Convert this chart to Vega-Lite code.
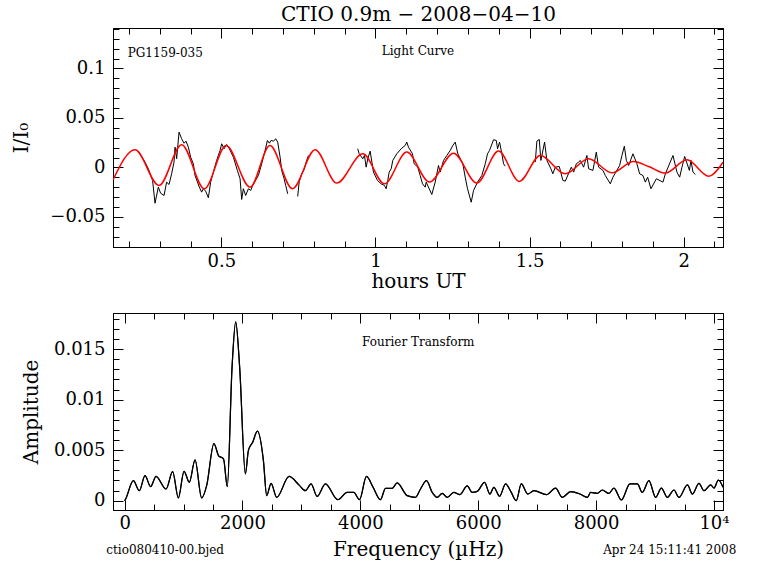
{
  "$schema": "https://vega.github.io/schema/vega-lite/v6.json",
  "autosize": "none",
  "padding": {"left": 113, "top": 28, "right": 655, "bottom": 546},
  "background": "white",
  "config": {
    "view": {"stroke": "black", "strokeWidth": 1},
    "axis": {
      "grid": false,
      "domainColor": "black",
      "domainWidth": 1,
      "tickColor": "black",
      "tickWidth": 1,
      "labelFont": "DejaVu Serif",
      "labelFontSize": 18,
      "labelColor": "black",
      "titleFont": "DejaVu Serif",
      "titleFontSize": 20,
      "titleFontWeight": "normal",
      "titleColor": "black",
      "labelOverlap": false,
      "labelFlush": false
    }
  },
  "datasets": {
    "obs": [
      {"t": 0.2305, "v": 0.0165, "s": 1}, {"t": 0.2523, "v": 0.0054, "s": 1}, {"t": 0.2630, "v": -0.0013, "s": 1},
      {"t": 0.2769, "v": -0.0131, "s": 1}, {"t": 0.2847, "v": -0.0361, "s": 1}, {"t": 0.2955, "v": -0.0199, "s": 1},
      {"t": 0.3029, "v": -0.0260, "s": 1}, {"t": 0.3140, "v": -0.0283, "s": 1}, {"t": 0.3224, "v": -0.0148, "s": 1},
      {"t": 0.3302, "v": -0.0172, "s": 1}, {"t": 0.3386, "v": -0.0064, "s": 1}, {"t": 0.3464, "v": 0.0054, "s": 1},
      {"t": 0.3497, "v": 0.0205, "s": 1}, {"t": 0.3549, "v": 0.0088, "s": 1}, {"t": 0.3627, "v": 0.0357, "s": 1},
      {"t": 0.3711, "v": 0.0290, "s": 1}, {"t": 0.3789, "v": 0.0245, "s": 1}, {"t": 0.3854, "v": 0.0266, "s": 1},
      {"t": 0.3929, "v": 0.0205, "s": 1}, {"t": 0.4003, "v": 0.0104, "s": 1}, {"t": 0.4091, "v": 0.0037, "s": 1},
      {"t": 0.4146, "v": -0.0081, "s": 1}, {"t": 0.4286, "v": -0.0199, "s": 1}, {"t": 0.4360, "v": -0.0249, "s": 1},
      {"t": 0.4416, "v": -0.0215, "s": 1}, {"t": 0.4490, "v": -0.0239, "s": 1}, {"t": 0.4578, "v": -0.0306, "s": 1},
      {"t": 0.4653, "v": -0.0148, "s": 1}, {"t": 0.4740, "v": -0.0047, "s": 1}, {"t": 0.4847, "v": 0.0071, "s": 1},
      {"t": 0.4958, "v": 0.0172, "s": 1}, {"t": 0.5010, "v": 0.0239, "s": 1}, {"t": 0.5088, "v": 0.0189, "s": 1},
      {"t": 0.5172, "v": 0.0232, "s": 1}, {"t": 0.5260, "v": 0.0189, "s": 1}, {"t": 0.5390, "v": 0.0104, "s": 1},
      {"t": 0.5519, "v": -0.0030, "s": 1}, {"t": 0.5607, "v": -0.0114, "s": 1}, {"t": 0.5659, "v": -0.0323, "s": 1},
      {"t": 0.5714, "v": -0.0215, "s": 1}, {"t": 0.5789, "v": -0.0283, "s": 1}, {"t": 0.5877, "v": -0.0215, "s": 1},
      {"t": 0.5951, "v": -0.0232, "s": 1}, {"t": 0.6016, "v": -0.0182, "s": 1}, {"t": 0.6201, "v": -0.0081, "s": 1},
      {"t": 0.6308, "v": 0.0037, "s": 1}, {"t": 0.6419, "v": 0.0172, "s": 1}, {"t": 0.6494, "v": 0.0273, "s": 1},
      {"t": 0.6558, "v": 0.0245, "s": 1}, {"t": 0.6614, "v": 0.0273, "s": 1}, {"t": 0.6688, "v": 0.0266, "s": 1},
      {"t": 0.6721, "v": 0.0273, "s": 1}, {"t": 0.6763, "v": 0.0290, "s": 1}, {"t": 0.6828, "v": 0.0256, "s": 1},
      {"t": 0.6906, "v": 0.0104, "s": 1}, {"t": 0.6958, "v": -0.0030, "s": 1}, {"t": 0.7036, "v": -0.0114, "s": 1},
      {"t": 0.7088, "v": -0.0182, "s": 1}, {"t": 0.7153, "v": -0.0266, "s": 1},
      {"t": 0.7477, "v": -0.0293, "s": 2}, {"t": 0.7523, "v": -0.0148, "s": 2}, {"t": 0.7607, "v": -0.0064, "s": 2},
      {"t": 0.7685, "v": -0.0023, "s": 2}, {"t": 0.7750, "v": 0.0054, "s": 2}, {"t": 0.7825, "v": 0.0121, "s": 2},
      {"t": 0.9425, "v": 0.0189, "s": 3}, {"t": 0.9471, "v": 0.0138, "s": 3}, {"t": 0.9588, "v": 0.0088, "s": 3},
      {"t": 0.9643, "v": 0.0121, "s": 3}, {"t": 0.9698, "v": 0.0003, "s": 3}, {"t": 0.9750, "v": 0.0088, "s": 3},
      {"t": 0.9828, "v": 0.0165, "s": 3}, {"t": 0.9935, "v": -0.0047, "s": 3}, {"t": 1.0065, "v": -0.0131, "s": 3},
      {"t": 1.0185, "v": -0.0165, "s": 3}, {"t": 1.0292, "v": -0.0182, "s": 3}, {"t": 1.0347, "v": -0.0215, "s": 3},
      {"t": 1.0399, "v": -0.0131, "s": 3}, {"t": 1.0445, "v": -0.0047, "s": 3}, {"t": 1.0510, "v": -0.0013, "s": 3},
      {"t": 1.0562, "v": 0.0071, "s": 3}, {"t": 1.0692, "v": 0.0138, "s": 3}, {"t": 1.0834, "v": 0.0189, "s": 3},
      {"t": 1.0964, "v": 0.0222, "s": 3}, {"t": 1.1016, "v": 0.0256, "s": 3}, {"t": 1.1071, "v": 0.0205, "s": 3},
      {"t": 1.1201, "v": 0.0138, "s": 3}, {"t": 1.1256, "v": 0.0037, "s": 3}, {"t": 1.1373, "v": 0.0003, "s": 3},
      {"t": 1.1451, "v": -0.0081, "s": 3}, {"t": 1.1526, "v": -0.0165, "s": 3}, {"t": 1.1614, "v": -0.0199, "s": 3},
      {"t": 1.1646, "v": -0.0148, "s": 3}, {"t": 1.1828, "v": -0.0273, "s": 3}, {"t": 1.1938, "v": -0.0148, "s": 3},
      {"t": 1.2045, "v": 0.0020, "s": 3}, {"t": 1.2101, "v": -0.0047, "s": 3}, {"t": 1.2208, "v": 0.0071, "s": 3},
      {"t": 1.2315, "v": 0.0121, "s": 3}, {"t": 1.2425, "v": 0.0172, "s": 3}, {"t": 1.2510, "v": 0.0222, "s": 3},
      {"t": 1.2588, "v": 0.0256, "s": 3}, {"t": 1.2672, "v": 0.0138, "s": 3}, {"t": 1.2834, "v": 0.0037, "s": 3},
      {"t": 1.2912, "v": -0.0098, "s": 3}, {"t": 1.2987, "v": -0.0215, "s": 3}, {"t": 1.3107, "v": -0.0351, "s": 3},
      {"t": 1.3182, "v": -0.0232, "s": 3}, {"t": 1.3312, "v": -0.0148, "s": 3}, {"t": 1.3451, "v": -0.0081, "s": 3},
      {"t": 1.3562, "v": 0.0037, "s": 3}, {"t": 1.3636, "v": 0.0138, "s": 3}, {"t": 1.3701, "v": 0.0172, "s": 3},
      {"t": 1.3831, "v": 0.0280, "s": 3}, {"t": 1.3919, "v": 0.0273, "s": 3}, {"t": 1.3961, "v": 0.0189, "s": 3},
      {"t": 1.4026, "v": 0.0256, "s": 3}, {"t": 1.4101, "v": 0.0138, "s": 3}, {"t": 1.4156, "v": 0.0037, "s": 3},
      {"t": 1.4211, "v": 0.0013, "s": 3},
      {"t": 1.5185, "v": 0.0054, "s": 4}, {"t": 1.5237, "v": 0.0266, "s": 4}, {"t": 1.5315, "v": 0.0283, "s": 4},
      {"t": 1.5367, "v": 0.0071, "s": 4}, {"t": 1.5487, "v": 0.0256, "s": 4}, {"t": 1.5562, "v": 0.0071, "s": 4},
      {"t": 1.5692, "v": -0.0013, "s": 4}, {"t": 1.5756, "v": -0.0064, "s": 4}, {"t": 1.5834, "v": 0.0003, "s": 4},
      {"t": 1.5964, "v": 0.0010, "s": 4}, {"t": 1.6081, "v": -0.0131, "s": 4}, {"t": 1.6159, "v": -0.0138, "s": 4},
      {"t": 1.6354, "v": 0.0003, "s": 4}, {"t": 1.6429, "v": -0.0047, "s": 4}, {"t": 1.6516, "v": 0.0037, "s": 4},
      {"t": 1.6591, "v": 0.0054, "s": 4}, {"t": 1.6646, "v": 0.0071, "s": 4}, {"t": 1.6753, "v": 0.0003, "s": 4},
      {"t": 1.6860, "v": 0.0121, "s": 4}, {"t": 1.6916, "v": -0.0013, "s": 4}, {"t": 1.7055, "v": -0.0030, "s": 4},
      {"t": 1.7165, "v": 0.0155, "s": 4}, {"t": 1.7240, "v": 0.0003, "s": 4}, {"t": 1.7380, "v": -0.0030, "s": 4},
      {"t": 1.7458, "v": -0.0081, "s": 4}, {"t": 1.7620, "v": -0.0165, "s": 4}, {"t": 1.7705, "v": -0.0098, "s": 4},
      {"t": 1.7922, "v": 0.0020, "s": 4}, {"t": 1.7997, "v": 0.0121, "s": 4}, {"t": 1.8075, "v": 0.0215, "s": 4},
      {"t": 1.8140, "v": 0.0071, "s": 4}, {"t": 1.8214, "v": 0.0020, "s": 4}, {"t": 1.8354, "v": 0.0138, "s": 4},
      {"t": 1.8484, "v": 0.0037, "s": 4}, {"t": 1.8571, "v": -0.0064, "s": 4}, {"t": 1.8679, "v": -0.0081, "s": 4},
      {"t": 1.8756, "v": -0.0148, "s": 4}, {"t": 1.8831, "v": -0.0098, "s": 4}, {"t": 1.8938, "v": -0.0215, "s": 4},
      {"t": 1.9114, "v": -0.0114, "s": 4}, {"t": 1.9328, "v": -0.0148, "s": 4}, {"t": 1.9406, "v": -0.0064, "s": 4},
      {"t": 1.9653, "v": 0.0121, "s": 4}, {"t": 1.9782, "v": -0.0047, "s": 4}, {"t": 1.9870, "v": -0.0098, "s": 4},
      {"t": 1.9945, "v": 0.0003, "s": 4}, {"t": 2.0032, "v": 0.0111, "s": 4}, {"t": 2.0185, "v": -0.0030, "s": 4},
      {"t": 2.0237, "v": 0.0071, "s": 4}, {"t": 2.0302, "v": -0.0047, "s": 4}, {"t": 2.0380, "v": -0.0071, "s": 4}
    ],
    "fit": [
      {"t": 0.1484, "v": -0.0125}, {"t": 0.2198, "v": 0.0179}, {"t": 0.2977, "v": -0.0182},
      {"t": 0.3711, "v": 0.0229}, {"t": 0.4448, "v": -0.0215}, {"t": 0.5153, "v": 0.0222},
      {"t": 0.5932, "v": -0.0199}, {"t": 0.6575, "v": 0.0222}, {"t": 0.7305, "v": -0.0215},
      {"t": 0.8042, "v": 0.0179}, {"t": 0.8744, "v": -0.0158}, {"t": 0.9588, "v": 0.0138},
      {"t": 1.0292, "v": -0.0165}, {"t": 1.1016, "v": 0.0155}, {"t": 1.1753, "v": -0.0148},
      {"t": 1.2532, "v": 0.0144}, {"t": 1.3289, "v": -0.0158}, {"t": 1.3994, "v": 0.0165},
      {"t": 1.4666, "v": -0.0141}, {"t": 1.5347, "v": 0.0121}, {"t": 1.6159, "v": -0.0064},
      {"t": 1.6916, "v": 0.0088}, {"t": 1.7672, "v": -0.0054}, {"t": 1.8377, "v": 0.0061},
      {"t": 1.8864, "v": 0.0010}, {"t": 1.9406, "v": -0.0057}, {"t": 2.0107, "v": 0.0078},
      {"t": 2.0812, "v": -0.0088}, {"t": 2.1276, "v": 0.0054}
    ],
    "ft": [
      {"f": 0, "a": 0}, {"f": 20, "a": 0.0002}, {"f": 148, "a": 0.00198}, {"f": 250, "a": 0.00099},
      {"f": 346, "a": 0.00248}, {"f": 441, "a": 0.00139}, {"f": 533, "a": 0.00241}, {"f": 703, "a": 0.00116},
      {"f": 815, "a": 0.00288}, {"f": 912, "a": 0.00027}, {"f": 1008, "a": 0.00291}, {"f": 1098, "a": 0.00182},
      {"f": 1195, "a": 0.00404}, {"f": 1307, "a": 0.00027}, {"f": 1392, "a": 0.00149}, {"f": 1515, "a": 0.00565},
      {"f": 1600, "a": 0.0044}, {"f": 1640, "a": 0.0043}, {"f": 1680, "a": 0.0041}, {"f": 1742, "a": 0.00139},
      {"f": 1823, "a": 0.0132}, {"f": 1885, "a": 0.01769}, {"f": 1952, "a": 0.0132}, {"f": 2049, "a": 0.00265},
      {"f": 2100, "a": 0.00496}, {"f": 2173, "a": 0.00578}, {"f": 2253, "a": 0.00688}, {"f": 2355, "a": 0.00397},
      {"f": 2411, "a": 0.0005}, {"f": 2485, "a": 0.00172}, {"f": 2581, "a": 0.00033}, {"f": 2790, "a": 0.0024},
      {"f": 2965, "a": 0.00152}, {"f": 3068, "a": 0.00099}, {"f": 3164, "a": 0.00166}, {"f": 3266, "a": 0.00043},
      {"f": 3407, "a": 0.00166}, {"f": 3616, "a": 0.0001}, {"f": 3776, "a": 0.00082}, {"f": 3888, "a": 0.00082},
      {"f": 3985, "a": 0.0001}, {"f": 4104, "a": 0.00241}, {"f": 4217, "a": 0.00132}, {"f": 4341, "a": 0.0001},
      {"f": 4426, "a": 0.00122}, {"f": 4540, "a": 0.00122}, {"f": 4625, "a": 0.00176}, {"f": 4795, "a": 0.0005},
      {"f": 4936, "a": 0.00033}, {"f": 5020, "a": 0.00116}, {"f": 5122, "a": 0.00198}, {"f": 5219, "a": 0.00082},
      {"f": 5304, "a": 0.00033}, {"f": 5389, "a": 0.00072}, {"f": 5474, "a": 0.00033}, {"f": 5586, "a": 0.00082},
      {"f": 5688, "a": 0.0006}, {"f": 5813, "a": 0.00146}, {"f": 5898, "a": 0.00082}, {"f": 5983, "a": 0.00092},
      {"f": 6107, "a": 0.00182}, {"f": 6197, "a": 0.00066}, {"f": 6265, "a": 0.00132}, {"f": 6362, "a": 0.00043},
      {"f": 6464, "a": 0.00166}, {"f": 6560, "a": 0.00082}, {"f": 6645, "a": 0}, {"f": 6730, "a": 0.00166},
      {"f": 6842, "a": 0.00066}, {"f": 6944, "a": 0.00099}, {"f": 7160, "a": 0.0006}, {"f": 7312, "a": 0.00125},
      {"f": 7426, "a": 0.00033}, {"f": 7567, "a": 0.00089}, {"f": 7725, "a": 0.00066}, {"f": 7851, "a": 0.00033},
      {"f": 7907, "a": 0.00082}, {"f": 8020, "a": 0.00072}, {"f": 8105, "a": 0.00106}, {"f": 8217, "a": 0.00072},
      {"f": 8302, "a": 0.00125}, {"f": 8428, "a": 0.00007}, {"f": 8574, "a": 0.00166}, {"f": 8700, "a": 0.00166},
      {"f": 8784, "a": 0.00082}, {"f": 8896, "a": 0.00198}, {"f": 9010, "a": 0.00033}, {"f": 9107, "a": 0.00125},
      {"f": 9209, "a": 0.00033}, {"f": 9321, "a": 0.00106}, {"f": 9406, "a": 0.00033}, {"f": 9549, "a": 0.00156},
      {"f": 9633, "a": 0.00066}, {"f": 9745, "a": 0.00172}, {"f": 9830, "a": 0.00099}, {"f": 9944, "a": 0.00156},
      {"f": 10000, "a": 0.00125}, {"f": 10075, "a": 0.00205}, {"f": 10153, "a": 0.00132}
    ],
    "titleNote": [{"label": "CTIO 0.9m  −  2008−04−10", "t": 1.1396, "v": 0.1475}],
    "topNotesL": [{"label": "PG1159-035", "t": 0.196, "v": 0.1114}],
    "topNotesC": [{"label": "Light Curve", "t": 1.138, "v": 0.1131}],
    "botNotesC": [{"label": "Fourier Transform", "f": 4983, "a": 0.01528}],
    "botNotesL": [{"label": "ctio080410-00.bjed", "f": -311, "a": -0.0053}],
    "botNotesR": [{"label": "Apr 24 15:11:41 2008", "f": 10380, "a": -0.0053}]
  },
  "vconcat": [
    {
      "width": 610,
      "height": 219,
      "resolve": {"axis": {"x": "independent", "y": "independent"}},
      "layer": [
        {
          "data": {"name": "obs"},
          "mark": {"type": "line", "color": "black", "strokeWidth": 1, "clip": true},
          "encoding": {
            "x": {"field": "t", "type": "quantitative", "scale": {"domain": [0.1484, 2.1276], "nice": false, "zero": false},
              "axis": {"orient": "bottom", "title": "hours UT", "format": "~g",
                "values": [0.2,0.3,0.4,0.5,0.6,0.7,0.8,0.9,1,1.1,1.2,1.3,1.4,1.5,1.6,1.7,1.8,1.9,2,2.1],
                "labelExpr": "abs(datum.value*2-round(datum.value*2))<1e-6 ? datum.label : ''",
                "tickSize": {"condition": {"test": "abs(datum.value*2-round(datum.value*2))<1e-6", "value": -10}, "value": -6},
                "labelPadding": 15, "titlePadding": -3}},
            "y": {"field": "v", "type": "quantitative", "scale": {"domain": [-0.0803, 0.1408], "nice": false, "zero": false},
              "axis": {"orient": "left", "title": "I/I₀", "format": "~g",
                "values": [-0.08,-0.07,-0.06,-0.05,-0.04,-0.03,-0.02,-0.01,0,0.01,0.02,0.03,0.04,0.05,0.06,0.07,0.08,0.09,0.1,0.11,0.12,0.13,0.14],
                "labelExpr": "abs(datum.value*20-round(datum.value*20))<1e-6 ? datum.label : ''",
                "tickSize": {"condition": {"test": "abs(datum.value*20-round(datum.value*20))<1e-6", "value": -10}, "value": -6},
                "labelPadding": 18, "titlePadding": 18}},
            "detail": {"field": "s", "type": "nominal"}
          }
        },
        {
          "data": {"name": "fit"},
          "mark": {"type": "line", "color": "#ff0000", "strokeWidth": 1.5, "interpolate": "monotone", "clip": true},
          "encoding": {
            "x": {"field": "t", "type": "quantitative", "scale": {"domain": [0.1484, 2.1276], "nice": false, "zero": false},
              "axis": {"orient": "top", "title": null, "labels": false,
                "values": [0.2,0.3,0.4,0.5,0.6,0.7,0.8,0.9,1,1.1,1.2,1.3,1.4,1.5,1.6,1.7,1.8,1.9,2,2.1],
                "tickSize": {"condition": {"test": "abs(datum.value*2-round(datum.value*2))<1e-6", "value": -10}, "value": -6}}},
            "y": {"field": "v", "type": "quantitative", "scale": {"domain": [-0.0803, 0.1408], "nice": false, "zero": false},
              "axis": {"orient": "right", "title": null, "labels": false,
                "values": [-0.08,-0.07,-0.06,-0.05,-0.04,-0.03,-0.02,-0.01,0,0.01,0.02,0.03,0.04,0.05,0.06,0.07,0.08,0.09,0.1,0.11,0.12,0.13,0.14],
                "tickSize": {"condition": {"test": "abs(datum.value*20-round(datum.value*20))<1e-6", "value": -10}, "value": -6}}}
          }
        },
        {
          "data": {"name": "titleNote"},
          "mark": {"type": "text", "align": "center", "baseline": "alphabetic", "font": "DejaVu Serif", "fontSize": 20, "color": "black"},
          "encoding": {
            "x": {"field": "t", "type": "quantitative", "axis": null},
            "y": {"field": "v", "type": "quantitative", "axis": null},
            "text": {"field": "label"}
          }
        },
        {
          "data": {"name": "topNotesL"},
          "mark": {"type": "text", "align": "left", "baseline": "alphabetic", "font": "DejaVu Serif", "fontSize": 12, "color": "black"},
          "encoding": {
            "x": {"field": "t", "type": "quantitative", "axis": null},
            "y": {"field": "v", "type": "quantitative", "axis": null},
            "text": {"field": "label"}
          }
        },
        {
          "data": {"name": "topNotesC"},
          "mark": {"type": "text", "align": "center", "baseline": "alphabetic", "font": "DejaVu Serif", "fontSize": 12, "color": "black"},
          "encoding": {
            "x": {"field": "t", "type": "quantitative", "axis": null},
            "y": {"field": "v", "type": "quantitative", "axis": null},
            "text": {"field": "label"}
          }
        }
      ]
    },
    {
      "width": 610,
      "height": 197,
      "resolve": {"axis": {"x": "independent", "y": "independent"}},
      "layer": [
        {
          "data": {"name": "ft"},
          "mark": {"type": "line", "color": "black", "strokeWidth": 1.2, "interpolate": "monotone", "clip": true},
          "encoding": {
            "x": {"field": "f", "type": "quantitative", "scale": {"domain": [-197, 10153], "nice": false, "zero": false},
              "axis": {"orient": "bottom", "title": "Frequency (µHz)", "format": "d",
                "values": [0,500,1000,1500,2000,2500,3000,3500,4000,4500,5000,5500,6000,6500,7000,7500,8000,8500,9000,9500,10000],
                "labelExpr": "datum.value % 2000 == 0 ? (datum.value == 10000 ? '10⁴' : datum.label) : ''",
                "tickSize": {"condition": {"test": "datum.value % 2000 == 0", "value": -10}, "value": -6},
                "labelPadding": 14, "titlePadding": 3}},
            "y": {"field": "a", "type": "quantitative", "scale": {"domain": [-0.00092, 0.01857], "nice": false, "zero": false},
              "axis": {"orient": "left", "title": "Amplitude", "format": "~g",
                "values": [0,0.001,0.002,0.003,0.004,0.005,0.006,0.007,0.008,0.009,0.01,0.011,0.012,0.013,0.014,0.015,0.016,0.017,0.018],
                "labelExpr": "abs(datum.value*200-round(datum.value*200))<1e-6 ? datum.label : ''",
                "tickSize": {"condition": {"test": "abs(datum.value*200-round(datum.value*200))<1e-6", "value": -10}, "value": -6},
                "labelPadding": 18, "titlePadding": 12}}
          }
        },
        {
          "data": {"name": "ft"},
          "mark": {"type": "line", "color": "black", "strokeWidth": 1.2, "interpolate": "monotone", "clip": true},
          "encoding": {
            "x": {"field": "f", "type": "quantitative", "scale": {"domain": [-197, 10153], "nice": false, "zero": false},
              "axis": {"orient": "top", "title": null, "labels": false,
                "values": [0,500,1000,1500,2000,2500,3000,3500,4000,4500,5000,5500,6000,6500,7000,7500,8000,8500,9000,9500,10000],
                "tickSize": {"condition": {"test": "datum.value % 2000 == 0", "value": -10}, "value": -6}}},
            "y": {"field": "a", "type": "quantitative", "scale": {"domain": [-0.00092, 0.01857], "nice": false, "zero": false},
              "axis": {"orient": "right", "title": null, "labels": false,
                "values": [0,0.001,0.002,0.003,0.004,0.005,0.006,0.007,0.008,0.009,0.01,0.011,0.012,0.013,0.014,0.015,0.016,0.017,0.018],
                "tickSize": {"condition": {"test": "abs(datum.value*200-round(datum.value*200))<1e-6", "value": -10}, "value": -6}}}
          }
        },
        {
          "data": {"name": "botNotesC"},
          "mark": {"type": "text", "align": "center", "baseline": "alphabetic", "font": "DejaVu Serif", "fontSize": 12, "color": "black"},
          "encoding": {
            "x": {"field": "f", "type": "quantitative", "axis": null},
            "y": {"field": "a", "type": "quantitative", "axis": null},
            "text": {"field": "label"}
          }
        },
        {
          "data": {"name": "botNotesL"},
          "mark": {"type": "text", "align": "left", "baseline": "alphabetic", "font": "DejaVu Serif", "fontSize": 12, "color": "black"},
          "encoding": {
            "x": {"field": "f", "type": "quantitative", "axis": null},
            "y": {"field": "a", "type": "quantitative", "axis": null},
            "text": {"field": "label"}
          }
        },
        {
          "data": {"name": "botNotesR"},
          "mark": {"type": "text", "align": "right", "baseline": "alphabetic", "font": "DejaVu Serif", "fontSize": 12, "color": "black"},
          "encoding": {
            "x": {"field": "f", "type": "quantitative", "axis": null},
            "y": {"field": "a", "type": "quantitative", "axis": null},
            "text": {"field": "label"}
          }
        }
      ]
    }
  ],
  "spacing": 66,
  "bounds": "flush"
}
